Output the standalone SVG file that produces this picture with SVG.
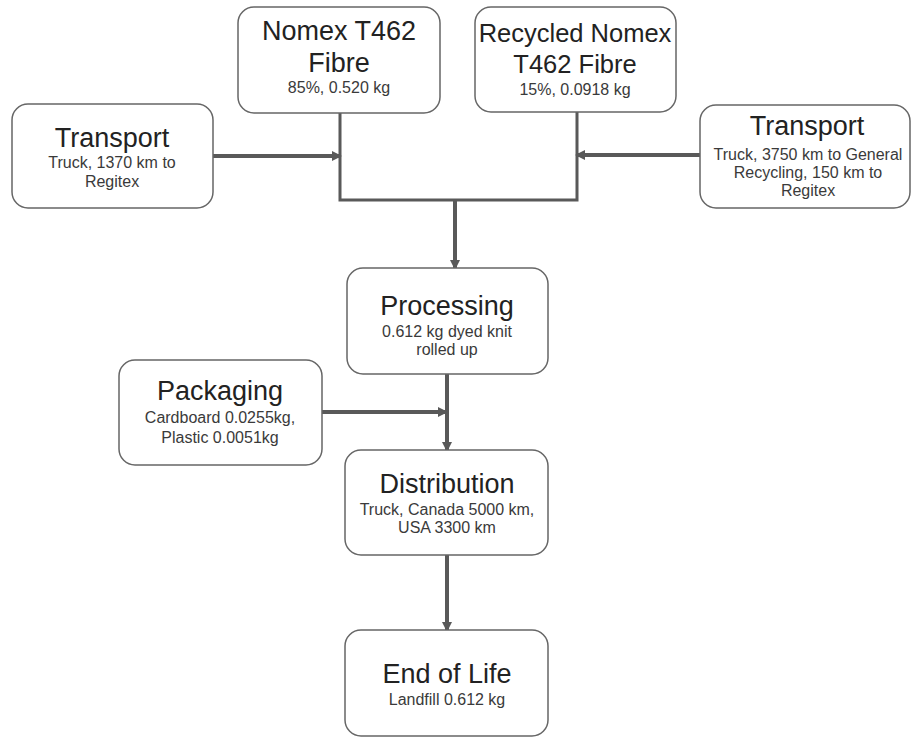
<svg xmlns="http://www.w3.org/2000/svg" width="912" height="738" viewBox="0 0 912 738">
<defs>
<marker id="ah" markerWidth="10" markerHeight="10" refX="8" refY="5" orient="auto" markerUnits="userSpaceOnUse">
<path d="M0,0 L10,5 L0,10 Z" fill="#595959"/>
</marker>
<style>
.box{fill:#fff;stroke:#666;stroke-width:1.5}
.t{font-family:"Liberation Sans",Arial,sans-serif;font-size:27px;fill:#222;text-anchor:middle}
.s{font-family:"Liberation Sans",Arial,sans-serif;font-size:16px;fill:#3a3a3a;text-anchor:middle}
.c{fill:none;stroke:#595959;stroke-width:3}
.a{fill:none;stroke:#595959;stroke-width:4;marker-end:url(#ah)}
</style>
</defs>
<rect width="912" height="738" fill="#fff"/>
<g id="connectors">
<path class="c" d="M340,113 V200 H577 V112"/>
<line class="a" x1="213" y1="156" x2="340" y2="156"/>
<line class="a" x1="700" y1="155" x2="577" y2="155"/>
<line class="a" x1="455" y1="200" x2="455" y2="268"/>
<line class="a" x1="322" y1="412" x2="446" y2="412"/>
<line class="a" x1="447" y1="374" x2="447" y2="450"/>
<line class="a" x1="447" y1="555" x2="447" y2="630"/>
</g>
<g id="nomex">
<rect class="box" x="238" y="7" width="202" height="106" rx="16"/>
<text class="t" x="339" y="40">Nomex T462</text>
<text class="t" x="339" y="72">Fibre</text>
<text class="s" x="339" y="93">85%, 0.520 kg</text>
</g>
<g id="recycled">
<rect class="box" x="475" y="7" width="201" height="105" rx="16"/>
<text class="t" x="575" y="42" style="font-size:25.5px">Recycled Nomex</text>
<text class="t" x="575" y="73" style="font-size:25.5px">T462 Fibre</text>
<text class="s" x="575" y="95">15%, 0.0918 kg</text>
</g>
<g id="transport-left">
<rect class="box" x="12" y="104" width="201" height="104" rx="16"/>
<text class="t" x="112" y="147">Transport</text>
<text class="s" x="112" y="168">Truck, 1370 km to</text>
<text class="s" x="112" y="187">Regitex</text>
</g>
<g id="transport-right">
<rect class="box" x="700" y="105" width="210" height="103" rx="16"/>
<text class="t" x="807" y="135">Transport</text>
<text class="s" x="808" y="160">Truck, 3750 km to General</text>
<text class="s" x="808" y="178">Recycling, 150 km to</text>
<text class="s" x="808" y="196">Regitex</text>
</g>
<g id="processing">
<rect class="box" x="347" y="268" width="201" height="106" rx="16"/>
<text class="t" x="447" y="315">Processing</text>
<text class="s" x="447" y="337">0.612 kg dyed knit</text>
<text class="s" x="447" y="355">rolled up</text>
</g>
<g id="packaging">
<rect class="box" x="119" y="360" width="203" height="105" rx="16"/>
<text class="t" x="220" y="400">Packaging</text>
<text class="s" x="220" y="423">Cardboard 0.0255kg,</text>
<text class="s" x="220" y="443">Plastic 0.0051kg</text>
</g>
<g id="distribution">
<rect class="box" x="345" y="450" width="203" height="105" rx="16"/>
<text class="t" x="447" y="493">Distribution</text>
<text class="s" x="447" y="515">Truck, Canada 5000 km,</text>
<text class="s" x="447" y="533">USA 3300 km</text>
</g>
<g id="end-of-life">
<rect class="box" x="345" y="630" width="203" height="106" rx="16"/>
<text class="t" x="447" y="683">End of Life</text>
<text class="s" x="447" y="705">Landfill 0.612 kg</text>
</g>
</svg>
